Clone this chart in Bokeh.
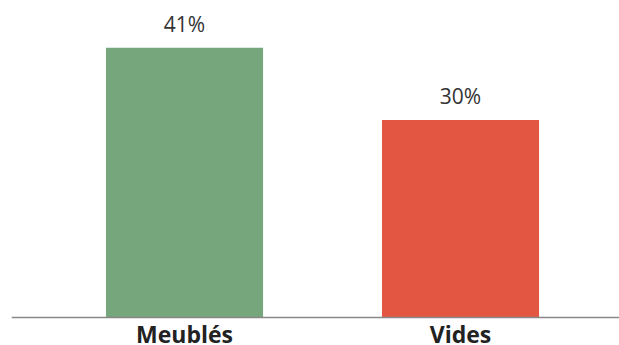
from bokeh.plotting import figure
from bokeh.models import ColumnDataSource, Range1d, Span
from bokeh.core.properties import value
from bokeh.embed import file_html
from bokeh.resources import INLINE

categories = ["Meublés", "Vides"]
values = [41, 30]
value_labels = ["41%", "30%"]
colors = ["#76A67C", "#E35742"]

PX_PER_UNIT = 6.58
positions = list(range(len(categories)))
source = ColumnDataSource(dict(x=positions, top=values, cat=categories,
                               lab=value_labels, color=colors,
                               cat_y=[0] * len(categories)))

p = figure(width=619, height=345,
           x_range=Range1d(-0.627, 1.576),
           y_range=Range1d(-28 / PX_PER_UNIT, 317 / PX_PER_UNIT),
           output_backend="svg", toolbar_location=None,
           x_axis_location=None, y_axis_location=None,
           min_border_left=11, min_border_right=0,
           min_border_top=0, min_border_bottom=0)

p.vbar(x="x", top="top", bottom=0, width=0.569, fill_color="color",
       line_color=None, source=source)

p.add_layout(Span(location=0, dimension="width", line_color="#888888",
                  line_width=1.5))

p.text(x="x", y="top", text="lab", source=source,
       text_align="center", text_baseline="alphabetic", y_offset=-24,
       text_font=value("Open Sans"), text_font_size="21px",
       text_color="#333333")

p.text(x="x", y="cat_y", text="cat", source=source,
       text_align="center", text_baseline="alphabetic", y_offset=16,
       text_font=value("Open Sans"), text_font_size="23px",
       text_font_style="bold", text_color="#222222")

p.xgrid.grid_line_color = None
p.ygrid.grid_line_color = None
p.outline_line_color = None
p.background_fill_color = "white"
p.border_fill_color = "white"

open("out.html", "w").write(file_html(p, INLINE))
